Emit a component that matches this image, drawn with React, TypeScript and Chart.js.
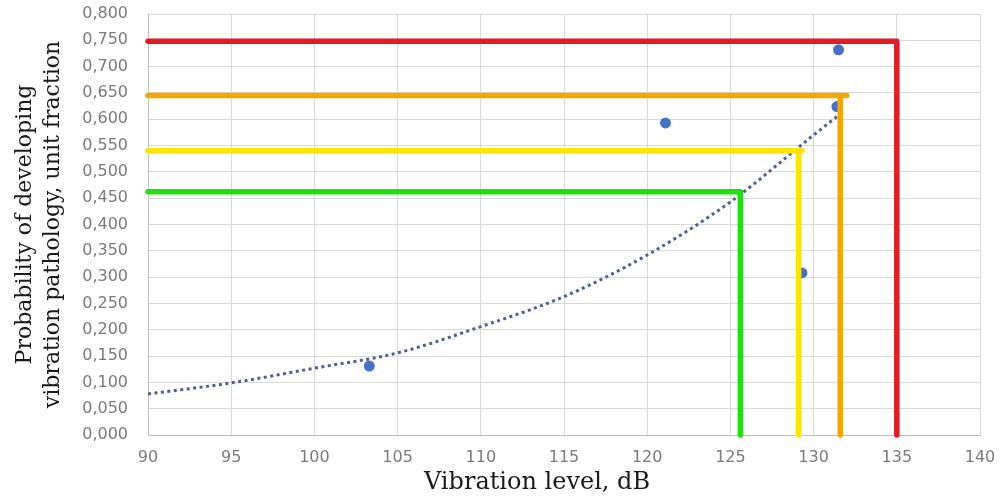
import React, { useEffect, useRef } from "react";
import { Chart, registerables } from "chart.js";

Chart.register(...registerables);

// Axis setup
const xMin = 90;
const xMax = 140;
const xStep = 5;
const yMin = 0;
const yMax = 0.8;
const yStep = 0.05;

const yTitleLines = ["Probability of developing", "vibration pathology, unit fraction"];
const xTitle = "Vibration level, dB";

// Observed points
const measuredLevel = [103.3, 121.1, 129.3, 131.4, 131.5];
const measuredProb = [0.131, 0.593, 0.308, 0.624, 0.732];

// Exponential trend line
const trendLevel = [90, 95, 100, 105, 110, 115, 120, 125, 130, 131.4];
const trendProb = [0.078, 0.099, 0.127, 0.156, 0.206, 0.263, 0.342, 0.443, 0.57, 0.605];

// Threshold guide lines
const thresholdProb = [0.748, 0.645, 0.54, 0.462];
const thresholdLevel = [135, 131.6, 129.1, 125.6];
const thresholdHorizEnd = [135, 132.0, 129.3, 125.6];
const thresholdColors = ["#e31b23", "#f7a600", "#ffe400", "#22dd11"];

const xTitlePlugin = {
  id: "xTitlePlugin",
  afterDraw(chart: any) {
    const { ctx, chartArea } = chart;
    ctx.save();
    ctx.font = "24px 'DejaVu Serif'";
    ctx.fillStyle = "#1a1a1a";
    ctx.textAlign = "center";
    ctx.textBaseline = "alphabetic";
    const cx = chartArea.left + (chartArea.right - chartArea.left) * 0.4676;
    ctx.fillText(xTitle, cx, 489);
    ctx.restore();
  },
};

export default function App() {
  const ref = useRef<HTMLCanvasElement | null>(null);

  useEffect(() => {
    if (!ref.current) return;
    const thresholdSets = thresholdProb.map((p, i) => ({
      label: "threshold " + (i + 1),
      data: [
        { x: xMin, y: p },
        { x: thresholdHorizEnd[i], y: p },
        { x: thresholdLevel[i], y: p },
        { x: thresholdLevel[i], y: yMin },
      ],
      showLine: true,
      borderColor: thresholdColors[i],
      backgroundColor: thresholdColors[i],
      borderWidth: 5.5,
      borderCapStyle: "round" as const,
      borderJoinStyle: "round" as const,
      pointRadius: 0,
      tension: 0,
      clip: false as any,
      order: 1,
    }));

    const chart = new Chart(ref.current, {
      type: "scatter",
      data: {
        datasets: [
          ...thresholdSets,
          {
            label: "trend",
            data: trendLevel.map((x, i) => ({ x, y: trendProb[i] })),
            showLine: true,
            borderColor: "#4a5f9c",
            borderWidth: 3,
            borderDash: [3, 3.5],
            pointRadius: 0,
            cubicInterpolationMode: "monotone",
            order: 2,
          },
          {
            label: "measured",
            data: measuredLevel.map((x, i) => ({ x, y: measuredProb[i] })),
            backgroundColor: "#4472c4",
            borderColor: "#4472c4",
            pointRadius: 5.5,
            pointBorderWidth: 0,
            order: 3,
          },
        ],
      },
      options: {
        responsive: false,
        animation: false,
        layout: { padding: { top: 14, right: 20, bottom: 0, left: 0 } },
        plugins: {
          legend: { display: false },
          tooltip: { enabled: false },
        },
        scales: {
          x: {
            type: "linear",
            min: xMin,
            max: xMax,
            ticks: {
              stepSize: xStep,
              color: "#7a7a7a",
              font: { family: "'DejaVu Sans'", size: 16 },
              padding: 13,
              maxRotation: 0,
            },
            grid: { color: "#d9d9d9", lineWidth: 1, drawTicks: false },
            border: { color: "#bfbfbf", width: 1 },
            afterFit(scale: any) {
              scale.height = 62;
              scale.paddingLeft = 0;
              scale.paddingRight = 0;
            },
          },
          y: {
            type: "linear",
            min: yMin,
            max: yMax,
            ticks: {
              stepSize: yStep,
              color: "#7a7a7a",
              font: { family: "'DejaVu Sans'", size: 16 },
              padding: 20,
              callback: (v: any) => Number(v).toFixed(3).replace(".", ","),
            },
            grid: { color: "#d9d9d9", lineWidth: 1, drawTicks: false },
            border: { color: "#bfbfbf", width: 1 },
            title: {
              display: true,
              text: yTitleLines,
              color: "#1a1a1a",
              font: { family: "'DejaVu Serif'", size: 22, lineHeight: 1.27 },
              padding: { top: 11, bottom: 0 },
            },
            afterFit(scale: any) {
              scale.width = 148;
              scale.paddingTop = 0;
              scale.paddingBottom = 0;
            },
          },
        },
      },
      plugins: [xTitlePlugin],
    });
    return () => chart.destroy();
  }, []);

  return (
    <div style={{ position: "absolute", left: 0, top: 0, width: 1000, height: 497, background: "#fff" }}>
      <canvas ref={ref} width={1000} height={497} style={{ display: "block" }} />
    </div>
  );
}
